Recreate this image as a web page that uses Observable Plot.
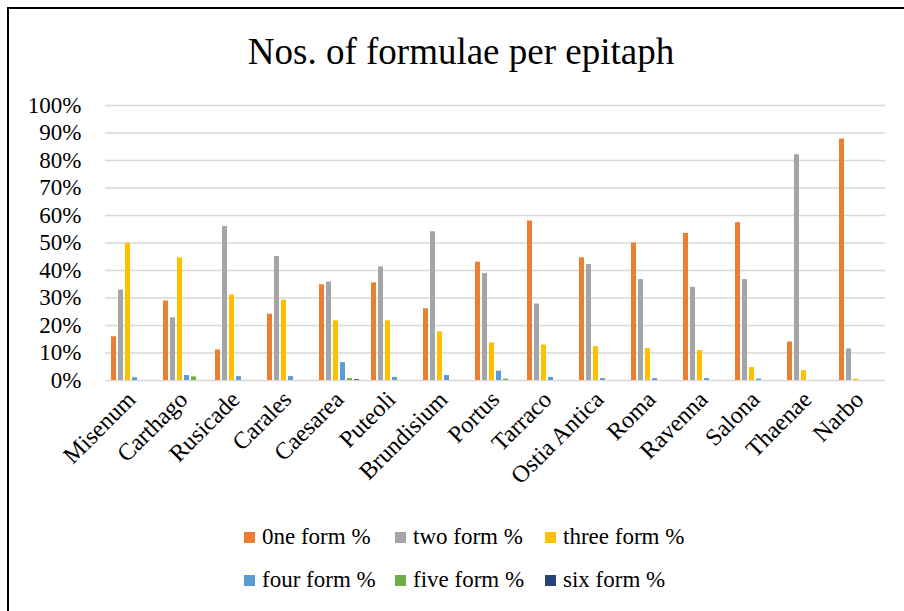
<!DOCTYPE html>
<html>
<head>
<meta charset="utf-8">
<script src="https://cdn.jsdelivr.net/npm/d3@7"></script>
<script src="https://cdn.jsdelivr.net/npm/@observablehq/plot@0.6"></script>
<style>
  html, body { margin: 0; padding: 0; background: #fff; }
  #wrap { position: relative; width: 904px; height: 611px; overflow: hidden; font-family: 'Liberation Serif', 'Times New Roman', serif; color: #000; }
  #frame { position: absolute; left: 7px; top: 7px; width: 920px; height: 640px; border-left: 2px solid #000; border-top: 2px solid #000; box-sizing: border-box; }
  #title { position: absolute; left: 0; width: 922px; top: 32px; text-align: center; font-size: 37px; line-height: 40px; font-family: 'Liberation Serif', serif; }
  #chart { position: absolute; left: 0; top: 0; }
  .leg { position: absolute; font-size: 23px; line-height: 23px; white-space: nowrap; font-family: 'Liberation Serif', serif; }
  .sw { position: absolute; width: 11px; height: 11px; }
  #chart svg text { font-family: 'Liberation Serif', serif; }
</style>
</head>
<body>
<div id="wrap">
  <div id="frame"></div>
  <div id="chart"></div>
  <div id="title">Nos. of formulae per epitaph</div>
  <div id="legend"></div>
</div>
<script>
const cities = ["Misenum","Carthago","Rusicade","Carales","Caesarea","Puteoli","Brundisium","Portus","Tarraco","Ostia Antica","Roma","Ravenna","Salona","Thaenae","Narbo"];
const seriesNames = ["0ne form %","two form %","three form %","four form %","five form %","six form %"];
const seriesColors = ["#ED7D31","#A5A5A5","#FFC000","#5B9BD5","#70AD47","#264478"];
const oneForm   = [15.9, 28.9, 11.1, 24.1, 34.8, 35.5, 26.1, 43.0, 58.0, 44.6, 50.0, 53.5, 57.4, 14.0, 87.8];
const twoForm   = [32.9, 22.8, 56.0, 45.1, 35.8, 41.3, 54.1, 38.9, 27.8, 42.2, 36.7, 33.9, 36.7, 82.1, 11.5];
const threeForm = [49.9, 44.6, 31.1, 29.2, 21.7, 21.7, 17.7, 13.7, 12.9, 12.3, 11.6, 10.9, 4.7, 3.6, 0.5];
const fourForm  = [1.0, 1.8, 1.4, 1.4, 6.5, 1.1, 1.8, 3.4, 1.1, 0.7, 0.7, 0.7, 0.5, 0, 0];
const fiveForm  = [0, 1.3, 0, 0, 0.7, 0, 0, 0.5, 0, 0, 0, 0, 0, 0, 0];
const sixForm   = [0, 0, 0, 0, 0.3, 0, 0, 0, 0, 0, 0, 0, 0, 0, 0];
const yTicks = [0,10,20,30,40,50,60,70,80,90,100];

const seriesValues = [oneForm, twoForm, threeForm, fourForm, fiveForm, sixForm];
const rows = [];
cities.forEach((c, i) => seriesNames.forEach((s, j) => rows.push({city: c, series: s, value: seriesValues[j][i]})));

const chart = Plot.plot({
  width: 904,
  height: 500,
  marginLeft: 102,
  marginRight: 17,
  marginTop: 105,
  marginBottom: 120,
  style: {fontFamily: "'Liberation Serif', serif", fontSize: "23px", color: "#000", background: "transparent", overflow: "visible"},
  fx: {domain: cities, padding: 0, tickRotate: -45, tickSize: 0, tickPadding: 15, label: null},
  x: {domain: seriesNames, axis: null, paddingInner: 0.22, paddingOuter: 0.7},
  y: {domain: [0, 100], ticks: yTicks, tickFormat: d => d + "%", tickSize: 0, tickPadding: 24, label: null},
  color: {domain: seriesNames, range: seriesColors},
  marks: [
    Plot.ruleY(yTicks, {stroke: "#d9d9d9", strokeWidth: 1.5}),
    Plot.barY(rows, {fx: "city", x: "series", y: "value", fill: "series"})
  ]
});
d3.select(chart).selectAll('[aria-label^="fx-axis"] text, [aria-label="fx-axis"] text').attr("font-size", "24px").style("font-size", "24px");
d3.select(chart).selectAll('[aria-label^="y-axis"] text, [aria-label="y-axis"] text').attr("font-size", "23px").style("font-size", "23px");
document.getElementById("chart").appendChild(chart);

const legend = document.getElementById("legend");
const colX = [244, 395, 545];
const rowY = [532, 575];
seriesNames.forEach((s, i) => {
  const cx = colX[i % 3], ry = rowY[Math.floor(i / 3)];
  const sw = document.createElement("div");
  sw.className = "sw";
  sw.style.left = cx + "px"; sw.style.top = ry + "px"; sw.style.background = seriesColors[i];
  legend.appendChild(sw);
  const t = document.createElement("div");
  t.className = "leg";
  t.style.left = (cx + 18) + "px"; t.style.top = (ry - 7) + "px";
  t.textContent = s;
  legend.appendChild(t);
});
</script>
</body>
</html>
